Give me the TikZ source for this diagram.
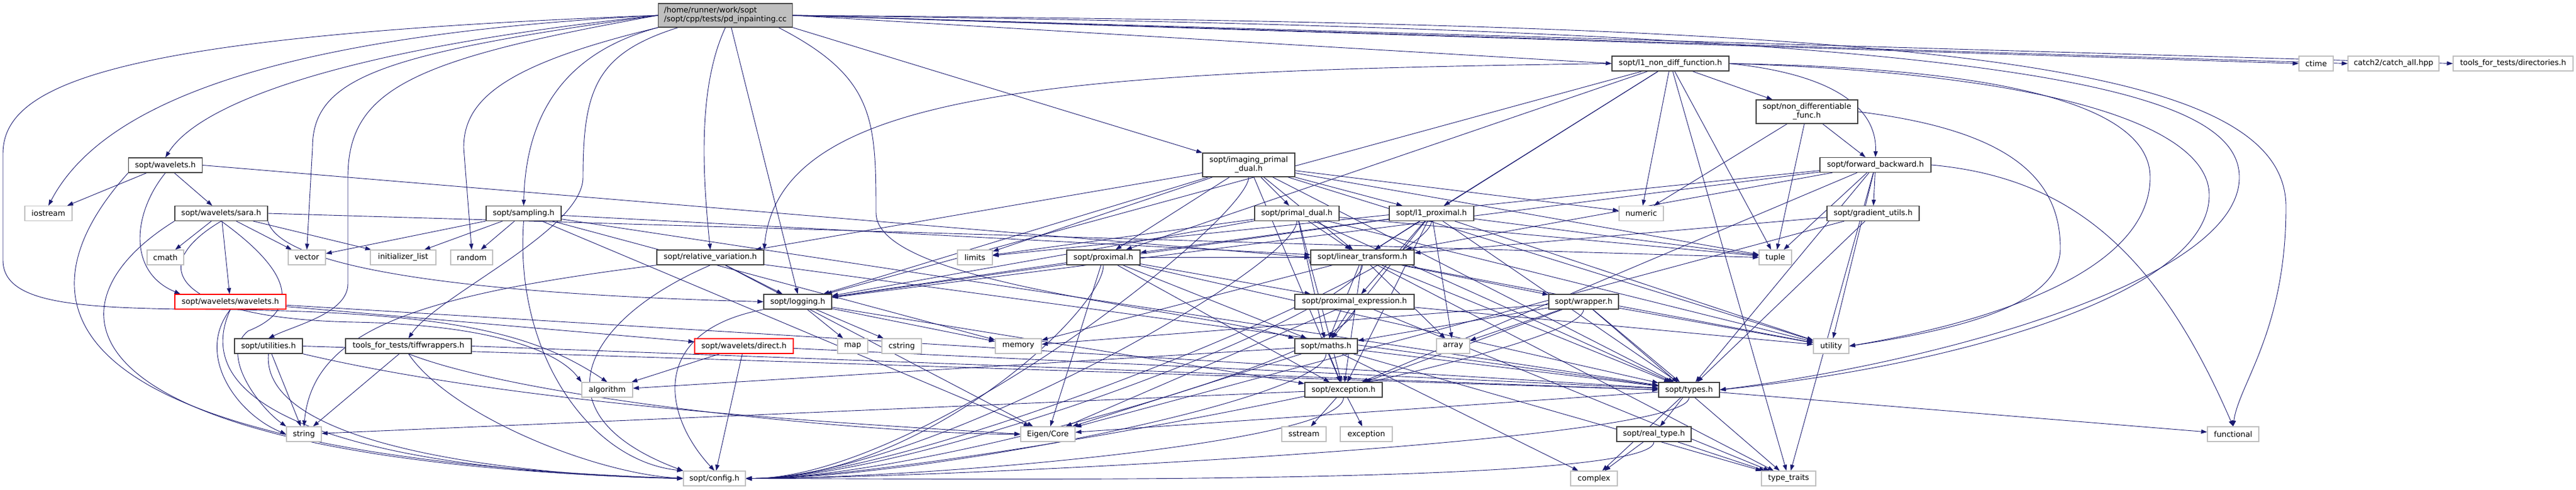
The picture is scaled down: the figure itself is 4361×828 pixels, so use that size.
\documentclass[tikz,border=0pt]{standalone}
\usepackage{fontspec}
\setmainfont{DejaVu Sans}
\usetikzlibrary{arrows.meta}
\definecolor{eb}{HTML}{191970}
\definecolor{bd}{HTML}{404040}
\definecolor{sg}{HTML}{BFBFBF}
\pgfdeclarelayer{bg}
\pgfsetlayers{bg,main}
\newcommand\mk[6]{\node[#5, minimum width=#4pt] (#1) at (#2,#3) {#6};}
\tikzset{
  hdr/.style={draw=bd, line width=1.2pt, fill=white, minimum height=25pt, inner sep=0pt, text=black},
  sys/.style={hdr, draw=sg},
  redb/.style={hdr, draw=red},
  two/.style={hdr, minimum height=40pt, align=center},
  mainb/.style={hdr, fill=sg, minimum height=40pt, align=left},
  e/.style={draw=eb, line width=0.9pt, -{Triangle[length=10pt,width=7pt]}},
}
\begin{document}
\begin{tikzpicture}[x=1pt,y=-1pt, font=\fontsize{13}{15}\selectfont]
\useasboundingbox (0,0) rectangle (4361,828);
% ---------- nodes ----------
\mk{main}{1228}{26}{227}{mainb}{/home/runner/work/sopt\\/sopt/cpp/tests/pd\_inpainting.cc}
\mk{l1nd}{2828}{107.5}{198}{hdr}{sopt/l1\_non\_diff\_function.h}
\mk{ctime}{3921}{107.5}{58}{sys}{ctime}
\mk{catch}{4052}{107.5}{154}{sys}{catch2/catch\_all.hpp}
\mk{dirs}{4254.5}{107.5}{203}{sys}{tools\_for\_tests/directories.h}
\mk{nondiff}{3059}{189}{172}{two}{sopt/non\_differentiable\\\_func.h}
\mk{wavelets}{280}{279.5}{125}{hdr}{sopt/wavelets.h}
\mk{imaging}{2114}{279}{156}{two}{sopt/imaging\_primal\\\_dual.h}
\mk{fb}{3175}{279}{188}{hdr}{sopt/forward\_backward.h}
\mk{iostream}{82}{361}{80}{sys}{iostream}
\mk{sara}{374.5}{361}{157}{hdr}{sopt/wavelets/sara.h}
\mk{sampling}{886.5}{361}{127}{hdr}{sopt/sampling.h}
\mk{primal}{2195.5}{361}{143}{hdr}{sopt/primal\_dual.h}
\mk{l1prox}{2423.5}{361}{143}{hdr}{sopt/l1\_proximal.h}
\mk{numeric}{2778.5}{361}{75}{sys}{numeric}
\mk{gradient}{3171}{361}{156}{hdr}{sopt/gradient\_utils.h}
\mk{cmath}{280}{435.5}{62}{sys}{cmath}
\mk{vector}{519.5}{435.5}{63}{sys}{vector}
\mk{initlist}{682.5}{435.5}{111}{sys}{initializer\_list}
\mk{random}{798.5}{435.5}{71}{sys}{random}
\mk{relvar}{1202.5}{435.5}{181}{hdr}{sopt/relative\_variation.h}
\mk{limits}{1650.5}{435.5}{59}{sys}{limits}
\mk{proximal}{1868}{435.5}{124}{hdr}{sopt/proximal.h}
\mk{lintrans}{2306.5}{435.5}{175}{hdr}{sopt/linear\_transform.h}
\mk{tuple}{3005.5}{435.5}{55}{sys}{tuple}
\mk{wwav}{390}{510.5}{188}{redb}{sopt/wavelets/wavelets.h}
\mk{logging}{1350.5}{510.5}{115}{hdr}{sopt/logging.h}
\mk{proxexpr}{2293}{510.5}{202}{hdr}{sopt/proximal\_expression.h}
\mk{wrapper}{2681}{510.5}{118}{hdr}{sopt/wrapper.h}
\mk{utilities}{454.5}{585.5}{115}{hdr}{sopt/utilities.h}
\mk{tiff}{691.5}{585.5}{213}{hdr}{tools\_for\_tests/tiffwrappers.h}
\mk{direct}{1259.5}{585.5}{167}{redb}{sopt/wavelets/direct.h}
\mk{map}{1443.5}{585.5}{51}{sys}{map}
\mk{cstring}{1526.5}{585.5}{67}{sys}{cstring}
\mk{memory}{1724}{585.5}{78}{sys}{memory}
\mk{maths}{2245}{585.5}{106}{hdr}{sopt/maths.h}
\mk{array}{2460}{585.5}{56}{sys}{array}
\mk{utility}{3100}{585.5}{60}{sys}{utility}
\mk{algorithm}{1028}{659.5}{86}{sys}{algorithm}
\mk{exch}{2274.5}{659.5}{131}{hdr}{sopt/exception.h}
\mk{types}{2859.5}{659.5}{103}{hdr}{sopt/types.h}
\mk{string}{514.5}{734.5}{59}{sys}{string}
\mk{Eigen}{1774}{734.5}{92}{sys}{Eigen/Core}
\mk{sstream}{2207.5}{734.5}{75}{sys}{sstream}
\mk{exception}{2313}{734.5}{88}{sys}{exception}
\mk{realtype}{2800}{734.5}{126}{hdr}{sopt/real\_type.h}
\mk{functional}{3780.5}{734.5}{87}{sys}{functional}
\mk{config}{1209.5}{809.5}{105}{sys}{sopt/config.h}
\mk{complex}{2698.5}{809.5}{79}{sys}{complex}
\mk{ttraits}{3028}{809.5}{92}{sys}{type\_traits}
% ---------- edges ----------
\begin{pgfonlayer}{bg}
% main
\draw[e] (main.west) .. controls (450,60) and (170,180) .. (iostream.north);
\draw[e] (main.west) .. controls (600,80) and (340,170) .. (wavelets.north);
\draw[e] (main.west) .. controls (200,60) and (5,140) .. (5,260) -- (5,440) .. controls (5,520) and (150,522) .. (400,524) .. controls (750,530) and (900,560) .. (algorithm.north);
\draw[e] (main.west) .. controls (650,90) and (529,130) .. (529,250) -- (vector.north);
\draw[e] (main.west) .. controls (700,100) and (589,150) .. (589,300) -- (589,480) .. controls (589,530) and (500,550) .. (utilities.north);
\draw[e] (main.south west) .. controls (850,110) and (785,170) .. (785,250) -- (random.north);
\draw[e] (main.south west) .. controls (950,90) and (890,200) .. (sampling.north);
\draw[e] ([xshift=-80pt]main.south) .. controls (1010,90) and (987,150) .. (987,300) .. controls (987,390) and (740,500) .. (tiff.north);
\draw[e] (main.south) .. controls (1180,150) and (1190,300) .. (relvar.north);
\draw[e] ([xshift=10pt]main.south) -- (logging.north);
\draw[e] ([xshift=90pt]main.south) .. controls (1480,130) and (1483,200) .. (1483,360) .. controls (1483,480) and (2000,520) .. (maths.north west);
\draw[e] (main.south east) -- (imaging.north west);
\draw[e] (main.east) -- (l1nd.west);
\draw[e] (main.east) -- (ctime.west);
\draw[e] (main.east) -- (catch.west);
\draw[e] (main.east) -- (dirs.west);
\draw[e] (main.east) .. controls (3200,40) and (3870,90) .. (3870,350) .. controls (3870,560) and (3790,650) .. (functional.north);
\draw[e] (main.east) .. controls (3300,50) and (3791,130) .. (3791,300) .. controls (3791,470) and (3300,610) .. (types.east);
% wavelets
\foreach \t in {iostream,sara} \draw[e] (wavelets) -- (\t);
\draw[e] (wavelets.south) .. controls (225,360) and (215,460) .. ([xshift=10pt]wwav.north west);
\draw[e] (wavelets.south west) .. controls (30,500) and (40,770) .. (config.west);
\draw[e] (wavelets.east) -- (lintrans.west);
% sara
\foreach \t in {cmath,vector,initlist,wwav} \draw[e] (sara) -- (\t);
\draw[e] (sara.south) .. controls (480,450) and (520,520) .. (420,560) .. controls (370,600) and (440,690) .. (string.north west);
\draw[e] (sara.south east) .. controls (470,440) and (700,495) .. (logging.west);
\draw[e] (sara.east) -- (tuple.west);
\draw[e] (sara.south west) .. controls (60,520) and (90,780) .. (config.west);
\draw[e] (sara.south) .. controls (230,460) and (320,540) .. (600,545) .. controls (850,550) and (950,600) .. (algorithm.north west);
% sampling
\foreach \t in {vector,initlist,random,memory,lintrans,types,Eigen} \draw[e] (sampling) -- (\t);
\draw[e] (sampling.south) .. controls (870,600) and (1000,780) .. (config.north west);
% relvar
\draw[e] (relvar.south west) .. controls (700,500) and (530,560) .. (string.north);
\draw[e] (relvar.south) .. controls (990,540) and (900,700) .. (config.north west);
\foreach \t in {Eigen,logging,types} \draw[e] (relvar) -- (\t);
% logging
\foreach \t in {map,cstring,memory,exch} \draw[e] (logging) -- (\t);
\draw[e] (logging.south west) .. controls (1100,560) and (1120,700) .. (config.north);
% wwav
\draw[e] (wwav.south) .. controls (330,600) and (400,700) .. (string.west);
\draw[e] (wwav.south) .. controls (300,720) and (700,800) .. (config.west);
\foreach \t in {direct,types} \draw[e] (wwav) -- (\t);
% direct
\foreach \t in {algorithm,config,types} \draw[e] (direct) -- (\t);
% utilities
\draw[e] (utilities) -- (string);
\draw[e] (utilities.south) .. controls (440,760) and (900,805) .. (config.west);
\draw[e] (utilities.south east) .. controls (900,690) and (1500,720) .. (Eigen.west);
\draw[e] (utilities.east) -- (types.west);
% tiff
\draw[e] (tiff) -- (string);
\draw[e] (tiff.south) .. controls (760,700) and (1000,800) .. (config.west);
\draw[e] (tiff.south) .. controls (900,680) and (1500,735) .. (Eigen.west);
\draw[e] (tiff.east) -- (types.west);
% imaging
\foreach \t in {relvar,logging,limits,proximal,primal,l1prox,lintrans,numeric,tuple,utility,types,exch} \draw[e] (imaging) -- (\t);
% primal dual
\foreach \t in {limits,logging,lintrans,maths,exch,tuple,utility,types} \draw[e] (primal) -- (\t);
% l1 proximal
\foreach \t in {logging,proximal,lintrans,proxexpr,array,maths,exch,types,tuple,utility} \draw[e] (l1prox) -- (\t);
% proximal
\foreach \t in {logging,Eigen,lintrans,proxexpr,maths,types,exch} \draw[e] (proximal) -- (\t);
% linear transform
\foreach \t in {array,memory,ttraits,utility,exch,maths,types,wrapper} \draw[e] (lintrans) -- (\t);
% proximal expression
\foreach \t in {Eigen,maths,ttraits,utility} \draw[e] (proxexpr) -- (\t);
% wrapper
\foreach \t in {maths,array,exch,ttraits,utility,types,memory} \draw[e] (wrapper) -- (\t);
% maths
\foreach \t in {algorithm,complex,ttraits,Eigen,exch,types} \draw[e] (maths) -- (\t);
% exception
\foreach \t in {sstream,exception,string} \draw[e] (exch) -- (\t);
% types
\foreach \t in {complex,Eigen,functional,realtype} \draw[e] (types) -- (\t);
% real type
\foreach \t in {complex,ttraits} \draw[e] (realtype) -- (\t);
% config bundle from the right
\foreach \s in {imaging,primal,l1prox,proximal,lintrans,proxexpr,wrapper,maths,exch,types,realtype}
  \draw[e] (\s) .. controls +(0,90) and +(300,0) .. (config.east);
% l1 non diff
\draw[e] (l1nd.west) .. controls (1800,120) and (1320,150) .. (relvar.north east);
\foreach \t in {logging,proximal,l1prox,lintrans,numeric,tuple,nondiff,ttraits} \draw[e] (l1nd) -- (\t);
\draw[e] (l1nd.east) .. controls (3100,125) and (3178,180) .. (fb.north);
\draw[e] (l1nd.east) .. controls (3400,115) and (3640,180) .. (3640,300) .. controls (3640,450) and (3400,540) .. (utility.east);
\draw[e] (l1nd.east) .. controls (3500,125) and (3740,220) .. (3740,330) .. controls (3740,500) and (3300,620) .. (types.east);
% non differentiable
\foreach \t in {numeric,tuple,fb} \draw[e] (nondiff) -- (\t);
\draw[e] (nondiff.east) .. controls (3400,220) and (3488,300) .. (3488,420) .. controls (3488,520) and (3300,560) .. (utility.east);
% forward backward
\foreach \t in {logging,lintrans,limits,tuple,gradient,exch,utility,types,ttraits} \draw[e] (fb) -- (\t);
\draw[e] (fb.east) .. controls (3500,300) and (3650,420) .. (functional.north);
% gradient utils
\foreach \t in {lintrans,Eigen,types} \draw[e] (gradient) -- (\t);
\end{pgfonlayer}
\end{tikzpicture}
\end{document}
